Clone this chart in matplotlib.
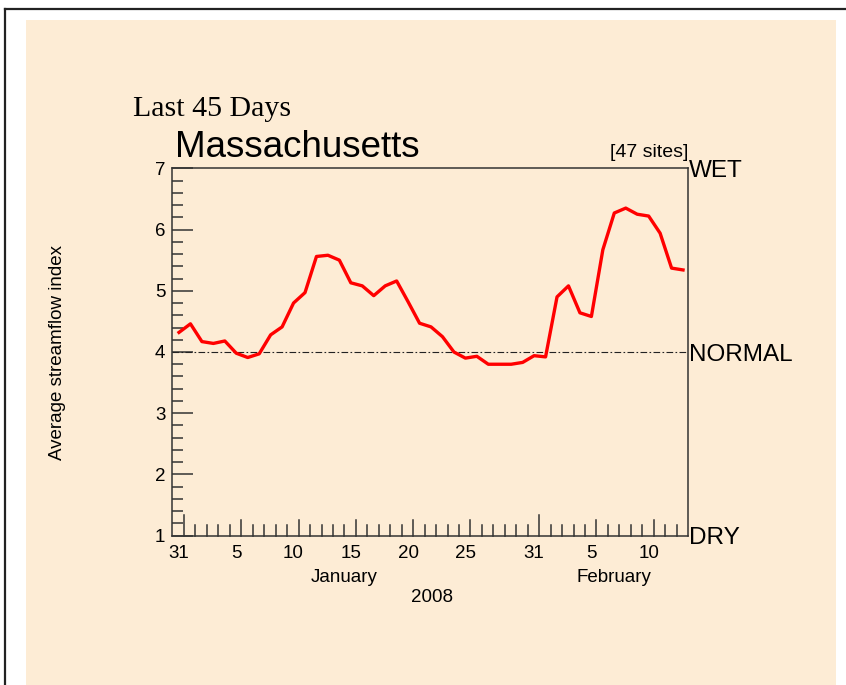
import matplotlib
matplotlib.use('Agg')
import matplotlib.pyplot as plt
import matplotlib.transforms as mtransforms
from matplotlib.patches import Rectangle
from matplotlib.lines import Line2D
import numpy as np

# data : daily average streamflow index, Dec 31 2007 -> Feb 13 2008
state_name = 'Massachusetts'
n_sites = 47
days = np.arange(45)   # 0 = Dec 31
index_values = [4.32, 4.46, 4.17, 4.14, 4.18, 3.98, 3.91, 3.97, 4.28, 4.41,
                4.80, 4.97, 5.56, 5.58, 5.50, 5.13, 5.08, 4.92, 5.08, 5.16,
                4.82, 4.47, 4.41, 4.25, 4.00, 3.90, 3.93, 3.80, 3.80, 3.80,
                3.83, 3.94, 3.92, 4.90, 5.08, 4.64, 4.58, 5.67, 6.27, 6.35,
                6.25, 6.22, 5.94, 5.37, 5.34]
normal_value = 4

day_label_pos = [0, 5, 10, 15, 20, 25, 31, 36, 41]
day_labels = ['31', '5', '10', '15', '20', '25', '31', '5', '10']
month_labels = ['January', 'February']
month_label_pos = [14.4, 38.0]
year_label = '2008'
year_label_pos = 22.1

y_ticks = [1, 2, 3, 4, 5, 6, 7]
class_labels = ['WET', 'NORMAL', 'DRY']
class_label_pos = [7, 4, 1]

beige = '#fdecd5'
axis_col = '#333333'
small_fs = 13.5

fig = plt.figure(figsize=(8.46, 6.85), dpi=100, facecolor='white')

# panel + frame
fig.patches.append(Rectangle((26/846, 0), (836-26)/846, 1-20/685, transform=fig.transFigure,
                             facecolor=beige, edgecolor='none', zorder=-2))
fig.lines.append(Line2D([5/846, 1], [1-9/685, 1-9/685], transform=fig.transFigure,
                        color='#222222', lw=1.6, zorder=-1))
fig.lines.append(Line2D([5/846, 5/846], [0, 1-9/685], transform=fig.transFigure,
                        color='#222222', lw=1.6, zorder=-1))

ax = fig.add_axes([172.3/846, 1-535.7/685, (687.5-172.3)/846, (535.7-168.3)/685])
ax.set_zorder(2)
ax.set_facecolor('none')
for s in ax.spines.values():
    s.set_color(axis_col)
    s.set_linewidth(1.1)

# plot the data
ax.axhline(normal_value, color='#222222', lw=0.8, dashes=(6, 2.1, 1.5, 2.1), zorder=2)
ax.plot(days, index_values, color='#ff0000', lw=2.4, zorder=3)

ax.set_xlim(-0.585, 44.39)
ax.set_ylim(1, 7)

# y ticks (inside, left only)
ax.set_yticks(y_ticks)
ax.set_yticks(np.arange(1, 7.01, 0.2), minor=True)
ax.tick_params(axis='y', which='major', direction='in', length=15, width=1.1, color=axis_col,
               pad=5, labelsize=small_fs, right=False)
ax.tick_params(axis='y', which='minor', direction='in', length=8, width=1.1, color=axis_col,
               right=False)

# x labels centered on days, tick marks drawn at day ends
ax.set_xticks(day_label_pos)
ax.set_xticklabels(day_labels)
ax.tick_params(axis='x', which='major', length=0, pad=7, labelsize=small_fs, top=False)
ax.tick_params(axis='x', which='minor', length=0, top=False)
for lab in ax.get_xticklabels() + ax.get_yticklabels():
    lab.set_fontfamily('Liberation Sans')

trans = mtransforms.blended_transform_factory(ax.transData, ax.transAxes)
for d in range(44):
    if d == 0 or d == 31:
        h = 0.057
    elif d in (5, 10, 15, 20, 25, 36, 41):
        h = 0.0435
    else:
        h = 0.029
    ax.plot([d + 0.44, d + 0.44], [0, h], transform=trans, color=axis_col, lw=1.1,
            clip_on=False, zorder=4)

for name, pos in zip(month_labels, month_label_pos):
    ax.text(pos, -0.113, name, transform=trans, ha='center', va='center', fontsize=small_fs,
            family='Liberation Sans')
ax.text(year_label_pos, -0.168, year_label, transform=trans, ha='center', va='center',
        fontsize=small_fs, family='Liberation Sans')

# WET / NORMAL / DRY on the right
for name, pos in zip(class_labels, class_label_pos):
    ax.annotate(name, xy=(1, pos), xycoords=('axes fraction', 'data'), xytext=(1, -6.2),
                textcoords='offset points', ha='left', va='baseline', fontsize=17.5,
                family='Liberation Sans', annotation_clip=False)

# titles
fig.text(133/846, 1-115.7/685, 'Last 45 Days', fontsize=21.5, family='Liberation Serif',
         ha='left', va='baseline')
fig.text(175/846, 1-156.7/685, state_name, fontsize=26.5, family='Liberation Sans',
         ha='left', va='baseline')
fig.text(688/846, 1-156.7/685, '[%d sites]' % n_sites, fontsize=14, family='Liberation Sans',
         ha='right', va='baseline')
fig.text(57/846, 1-352/685, 'Average streamflow index', rotation=90, fontsize=small_fs,
         family='Liberation Sans', ha='center', va='center')

fig.savefig('out.png', dpi=100, facecolor='white')
